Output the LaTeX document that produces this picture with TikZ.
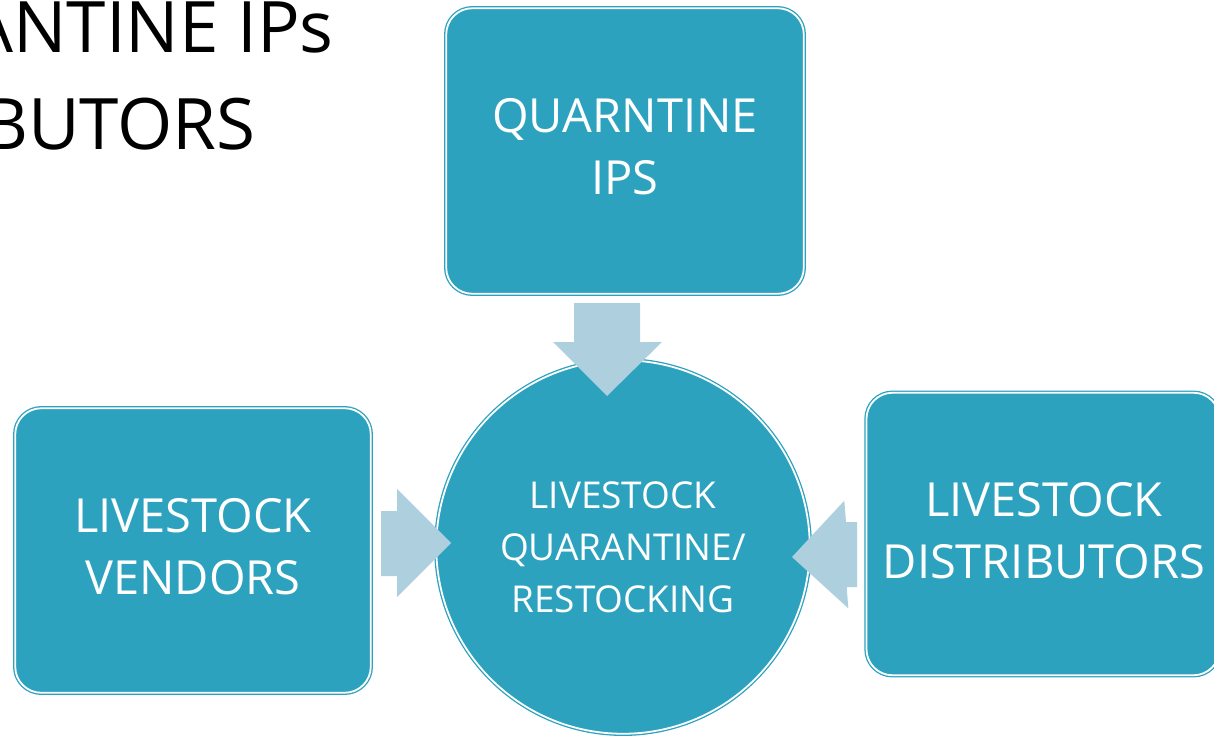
\documentclass[tikz,border=0pt]{standalone}
\usepackage{fontspec}
\setmainfont{Open Sans}
\definecolor{tealfill}{HTML}{2DA2BF}
\definecolor{arrowblue}{HTML}{AECFDE}
\tikzset{
  boxshape/.style={rectangle, rounded corners=26pt, fill=tealfill, draw=tealfill,
    line width=1.3pt, double=white, double distance=1.8pt, inner sep=0pt},
  circshape/.style={circle, fill=tealfill, draw=tealfill,
    line width=1.3pt, double=white, double distance=1.8pt, inner sep=0pt},
  boxtext/.style={text=white, align=center, inner sep=0pt, font=\fontsize{47}{62}\selectfont},
  circtext/.style={text=white, align=center, inner sep=0pt, font=\fontsize{37}{52}\selectfont},
  titletext/.style={text=black, inner sep=0pt, font=\fontsize{71}{97}\selectfont},
  blockarrow/.style={fill=arrowblue, draw=none},
}
\begin{document}
\begin{tikzpicture}[x=1pt,y=-1pt]
\useasboundingbox (0,0) rectangle (1214,738);
\clip (0,0) rectangle (1214,738);
% title fragments (cut off at the left edge, as in the reference)
\node[titletext, anchor=base east] (t1) at (334,53) {ANTINE IPs};
\node[titletext, anchor=base east] (t2) at (256,150) {BUTORS};
% shapes
\node[boxshape, minimum width=357.5pt, minimum height=285.5pt] (ips) at (625,151) {};
\node[boxshape, minimum width=355.5pt, minimum height=284.5pt] (vend) at (193,550.5) {};
\node[boxshape, minimum width=353pt, minimum height=282.5pt] (dist) at (1043,534) {};
\node[circshape, minimum size=373.5pt] (quar) at (623,547) {};
% texts
\node[boxtext] (ipst) at (625,147) {QUARNTINE\\IPS};
\node[boxtext] (vendt) at (193,546.5) {LIVESTOCK\\VENDORS};
\node[boxtext] (distt) at (1044,531) {LIVESTOCK\\DISTRIBUTORS};
\node[circtext] (quart) at (623,547) {LIVESTOCK\\QUARANTINE/\\RESTOCKING};
% block arrows
\fill[blockarrow] (574,303) -- (640,303) -- (640,342) -- (662,342) -- (607,396)
  -- (553,342) -- (574,342) -- cycle;
\fill[blockarrow] (381,511) -- (397,511) -- (397,489) -- (451,543) -- (397,597)
  -- (397,576) -- (381,576) -- cycle;
\fill[blockarrow] (857,522) -- (846,522) -- (844.3,500.7) -- (792,557) -- (848.3,608.3)
  -- (846.7,587) -- (857,587) -- cycle;
\end{tikzpicture}
\end{document}
